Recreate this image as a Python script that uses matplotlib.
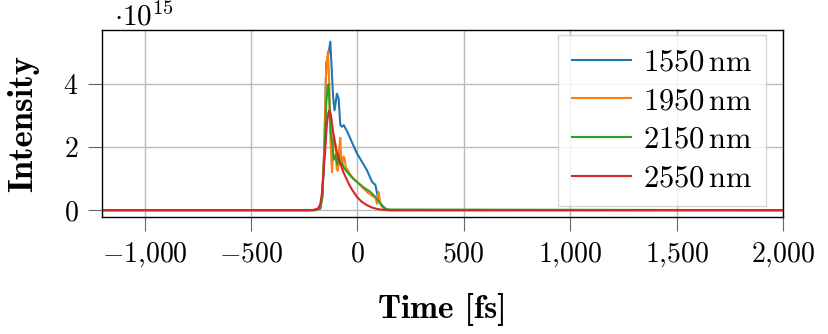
import matplotlib
matplotlib.use("Agg")
import matplotlib.pyplot as plt
from matplotlib.ticker import FuncFormatter, MultipleLocator
from matplotlib.transforms import offset_copy

plt.rcParams['font.family'] = 'serif'
plt.rcParams['font.serif'] = ['cmr10']
plt.rcParams['mathtext.fontset'] = 'cm'
plt.rcParams['axes.unicode_minus'] = True
plt.rcParams['axes.formatter.use_mathtext'] = True

# Time [fs] and intensity [1e15] for each wavelength
t_1550 = [-1200, -200, -175, -165, -155, -146, -135, -127, -120, -114, -107, -96, -88, -80, -72, -64, -48, -25, -1.5, 25, 45, 69, 85, 96, 108, 120, 131, 150, 2000]
i_1550 = [0, 0, 0.05, 0.4, 2.0, 4.66, 5.0, 5.35, 4.4, 3.6, 3.17, 3.7, 3.55, 2.7, 2.65, 2.7, 2.5, 2.15, 1.8, 1.5, 1.27, 0.9, 0.8, 0.42, 0.22, 0.12, 0.05, 0.0, 0]

t_1950 = [-1200, -200, -175, -165, -155, -148, -142, -138, -132, -126, -119, -111, -103, -97, -91, -86, -80, -76, -72, -66, -60, -54, -48, -30, -10, 20, 50, 70, 85, 92, 100, 106, 115, 130, 150, 2000]
i_1950 = [0, 0, 0.05, 0.4, 2.0, 4.2, 4.8, 5.05, 4.0, 2.2, 1.2, 2.4, 2.1, 1.3, 1.25, 1.9, 2.3, 1.5, 1.4, 1.7, 1.65, 1.35, 1.3, 1.1, 0.95, 0.75, 0.55, 0.45, 0.4, 0.2, 0.58, 0.3, 0.12, 0.03, 0.0, 0]

t_2150 = [-1200, -200, -175, -165, -155, -146, -139, -135, -130, -124, -119, -111, -103, -95, -88, -80, -72, -64, -40, -20, -1.5, 30, 61, 85, 95, 108, 125, 140, 2000]
i_2150 = [0, 0, 0.05, 0.4, 1.8, 3.4, 3.9, 4.0, 3.2, 2.4, 2.2, 1.6, 1.75, 1.45, 1.75, 1.45, 1.5, 1.35, 1.15, 1.0, 0.9, 0.72, 0.58, 0.42, 0.33, 0.2, 0.08, 0.02, 0]

t_2550 = [-1200, -230, -205, -190, -182, -174, -166, -158, -150, -143, -136, -130, -124, -118, -111, -100, -90, -80, -65, -50, -41, -25, -1.5, 20, 45, 70, 92, 120, 150, 2000]
i_2550 = [0, 0, 0.01, 0.04, 0.08, 0.2, 0.55, 1.27, 2.0, 2.75, 3.1, 3.18, 3.0, 2.7, 2.33, 1.95, 1.7, 1.48, 1.2, 0.98, 0.85, 0.65, 0.42, 0.27, 0.16, 0.08, 0.04, 0.01, 0.0, 0]

labels = [r'$1550\,\mathrm{nm}$', r'$1950\,\mathrm{nm}$', r'$2150\,\mathrm{nm}$', r'$2550\,\mathrm{nm}$']
series = [(t_1550, i_1550), (t_1950, i_1950), (t_2150, i_2150), (t_2550, i_2550)]
colors = ['#1f77b4', '#ff7f0e', '#2ca02c', '#d62728']

fig = plt.figure(figsize=(8.29, 3.34), dpi=100)
ax = fig.add_axes([0.123, 0.350, 0.8215, 0.560])

for (t, y), c, lab in zip(series, colors, labels):
    ax.plot(t, y, color=c, lw=1.5, label=lab)

ax.set_xlim(-1200, 2000)
ax.set_ylim(-0.22, 5.72)
ax.xaxis.set_major_locator(MultipleLocator(500))
ax.yaxis.set_major_locator(MultipleLocator(2))

def fmt_x(v, pos):
    iv = int(round(v))
    s = f"{abs(iv):,}".replace(",", "{,}")
    if iv < 0:
        s = "-" + s
    return f"${s}$"

ax.xaxis.set_major_formatter(FuncFormatter(fmt_x))
ax.yaxis.set_major_formatter(FuncFormatter(lambda v, p: f"${int(round(v))}$"))
ax.tick_params(axis='both', labelsize=20, direction='out', length=10, width=0.8,
               color='#666666', top=False, right=False, pad=7)
ax.grid(True, color='#bbbbbb', lw=1.0)
ax.set_axisbelow(True)
for sp in ax.spines.values():
    sp.set_linewidth(1.0)
    sp.set_color('black')

ax.set_xlabel('Time [fs]', fontsize=24, fontfamily='cmb10', labelpad=17)
ax.set_ylabel('Intensity', fontsize=25, fontfamily='cmb10', labelpad=17)
tr = offset_copy(ax.transAxes, fig=fig, x=0, y=3, units='points')
ax.text(0.018, 1.0, r'$\cdot 10^{15}$', transform=tr, fontsize=21, ha='left', va='baseline')

leg = ax.legend(loc='upper right', fontsize=22, frameon=True, fancybox=False,
                framealpha=0.8, edgecolor='#cccccc', handlelength=1.95,
                labelspacing=0.37, borderpad=0.45, handletextpad=0.38,
                borderaxespad=0.0, bbox_to_anchor=(0.975, 0.973))
leg.get_frame().set_linewidth(1.0)

fig.savefig('out.png', dpi=100)
